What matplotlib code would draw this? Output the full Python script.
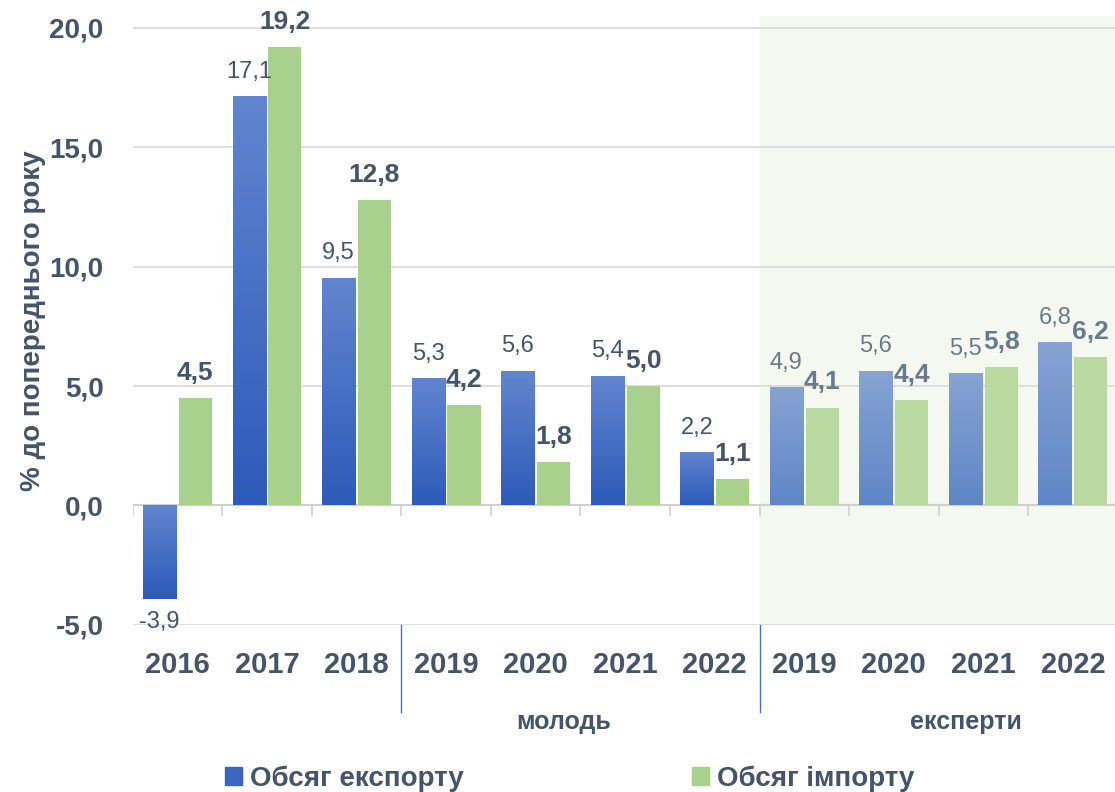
import numpy as np
import matplotlib.pyplot as plt
import matplotlib.transforms as mtransforms
from matplotlib.colors import LinearSegmentedColormap

plt.rcParams['font.family'] = ['Liberation Sans', 'DejaVu Sans']

years = ["2016", "2017", "2018", "2019", "2020", "2021", "2022",
         "2019", "2020", "2021", "2022"]
export = [-3.9, 17.1, 9.5, 5.3, 5.6, 5.4, 2.2, 4.9, 5.6, 5.5, 6.8]
imports = [4.5, 19.2, 12.8, 4.2, 1.8, 5.0, 1.1, 4.1, 4.4, 5.8, 6.2]
groups = ["молодь", "експерти"]
n_fact = 3          # 2016-2018 actual
n_youth = 4         # youth forecasts
legend_labels = ["Обсяг експорту", "Обсяг імпорту"]
ylabel = "% до попереднього року"

txt = "#44546a"
txt_light = "#6a7a8a"

fig = plt.figure(figsize=(11.15, 7.92), dpi=100)
ax = fig.add_axes([0.119, 0.211, 0.881, 0.769])

x = np.arange(len(years))
w = 0.37
off = 0.2
n_main = n_fact + n_youth

# expert zone background
ax.axvspan(n_main - 0.5, 10.47, color="#f5f8f0", zorder=0)

for yv in [-5, 5, 10, 15, 20]:
    ax.axhline(yv, color="#d9d9d9", lw=1.2, zorder=1)
ax.axhline(0, color="#d0d0d0", lw=1.5, zorder=1)
ax.vlines(np.arange(-0.5, len(years), 1), -0.45, 0, color="#d0d0d0", lw=1.2, zorder=1)

blue_main = LinearSegmentedColormap.from_list("bm", ["#2d5bb9", "#6185cf"])
blue_exp = LinearSegmentedColormap.from_list("be", ["#5e86c6", "#86a3d3"])
grad = np.linspace(0, 1, 100).reshape(-1, 1)

bars_e = ax.bar(x - off, export, w, color="#3a66c0", zorder=2)
bars_i = ax.bar(x + off, imports, w, color="#a9d18e", zorder=2)

# vertical gradient inside the export bars
for i, b in enumerate(bars_e):
    cmap = blue_main if i < n_main else blue_exp
    x0, y0 = b.get_x(), min(0, b.get_height())
    x1, y1 = x0 + b.get_width(), max(0, b.get_height())
    ax.imshow(grad, cmap=cmap, aspect="auto", extent=(x0, x1, y0, y1),
              origin="lower", zorder=2.5)
    b.set_facecolor("none")
for i, b in enumerate(bars_i):
    if i >= n_main:
        b.set_facecolor("#b8d9a0")

ax.set_xlim(-0.5, 10.47)
ax.set_ylim(-5, 20.5)

for i in range(len(years)):
    c = txt if i < n_main else txt_light
    ev = export[i]
    lab = f"{ev:.1f}".replace(".", ",")
    if ev >= 0:
        ax.text(x[i] - off, ev + 0.6, lab, ha="center", va="bottom",
                fontsize=17, color=c, zorder=4)
    else:
        ax.text(x[i] - off, ev - 0.5, lab, ha="center", va="top",
                fontsize=17, color=c, zorder=4)
    iv = imports[i]
    ax.text(x[i] + off, iv + 0.55, f"{iv:.1f}".replace(".", ","), ha="center",
            va="bottom", fontsize=19, fontweight="bold", color=c, zorder=4)

ax.set_xticks(x)
ax.set_xticklabels(years, fontsize=21, fontweight="bold", color=txt)
ax.tick_params(axis="x", length=0, pad=19)
yt = [-5, 0, 5, 10, 15, 20]
ax.set_yticks(yt)
ax.set_yticklabels([f"{v:.1f}".replace(".", ",") for v in yt],
                   fontsize=20, fontweight="bold", color=txt)
ax.tick_params(axis="y", length=0, pad=21)
for s in ax.spines.values():
    s.set_visible(False)

ax.set_ylabel(ylabel, fontsize=20, fontweight="bold", color=txt, labelpad=2)

trans = mtransforms.blended_transform_factory(ax.transData, ax.transAxes)
for xs in [n_fact - 0.5, n_main - 0.5]:
    ax.plot([xs, xs], [0, -0.143], color="#4472c4", lw=1, transform=trans, clip_on=False)
ax.text(4.31, -0.16, groups[0], transform=trans, ha="center", va="center",
        fontsize=18, fontweight="bold", color=txt)
ax.text(8.81, -0.16, groups[1], transform=trans, ha="center", va="center",
        fontsize=18, fontweight="bold", color=txt)

h1 = plt.Rectangle((0, 0), 1, 1, color="#3a66c0")
h2 = plt.Rectangle((0, 0), 1, 1, color="#a9d18e")
leg = fig.legend([h1, h2], legend_labels, loc="center", bbox_to_anchor=(0.511, 0.017),
                 ncol=2, frameon=False, fontsize=20, handlelength=0.6, handleheight=0.6,
                 handletextpad=0.3, columnspacing=8.2)
for t in leg.get_texts():
    t.set_color(txt)
    t.set_fontweight("bold")

fig.savefig("out.png", dpi=100)
